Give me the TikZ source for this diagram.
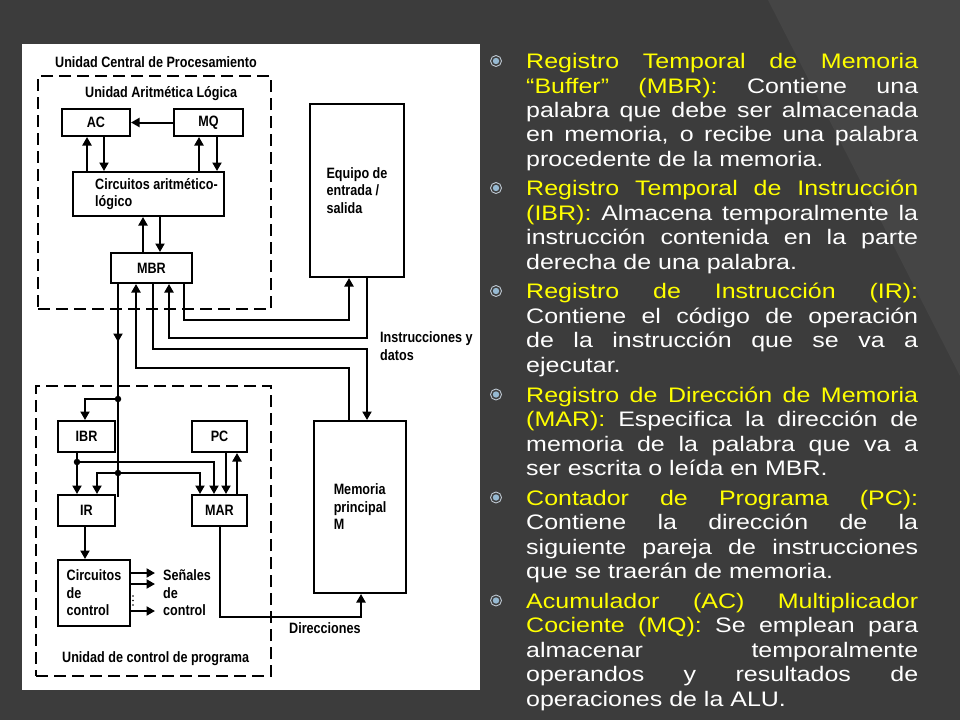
\documentclass[tikz,border=0pt]{standalone}
\usepackage{fontspec}
\setmainfont{Liberation Sans}
\newfontfamily\dfont[FakeStretch=0.84]{Liberation Sans}
\newfontfamily\rfont[FakeStretch=1.19]{Liberation Sans}
\usetikzlibrary{arrows.meta}
\definecolor{bg}{RGB}{60,60,60}
\definecolor{bgl}{RGB}{69,69,69}
\definecolor{ylw}{RGB}{255,255,0}
\definecolor{bulc}{RGB}{150,185,210}
\definecolor{ringc}{RGB}{190,200,210}
\newcommand\Y[1]{\textcolor{ylw}{#1}}
\newcommand\jline[3]{\node[txt] (#1) at (526,#2) {\makebox[392pt][s]{#3}};}
\newcommand\lastline[3]{\node[txt] (#1) at (526,#2) {#3};}
\newcommand\bulpt[2]{\node[bul] (#1) at (496,#2) {};}
\begin{document}
\begin{tikzpicture}[x=1pt,y=-1pt,
  box/.style={draw, line width=2pt, fill=white, inner sep=0pt, align=left,
    font=\dfont\bfseries\fontsize{15}{17.5}\selectfont},
  dbox/.style={draw, line width=2.4pt, dash pattern=on 12pt off 6pt, inner sep=0pt},
  lbl/.style={font=\dfont\bfseries\fontsize{15}{17.5}\selectfont, inner sep=0pt, align=left, anchor=west},
  arr/.style={line width=2pt, -{Triangle[length=8.5pt,width=9pt]}},
  ln/.style={line width=2pt},
  jdot/.style={circle, fill=black, inner sep=0pt, minimum size=6.5pt},
  txt/.style={font=\rfont\fontsize{21}{24.5}\selectfont, text=white, inner sep=0pt, anchor=base west},
  bul/.style={circle, draw=ringc, line width=0.9pt, minimum size=11pt, inner sep=0pt,
    path picture={\fill[bulc] (path picture bounding box.center) circle (3.2pt);}}
]
\useasboundingbox (0,0) rectangle (960,720);
\fill[bg] (0,0) rectangle (960,720);
\fill[bgl] (768,0) -- (960,0) -- (960,376) -- cycle;
\fill[white] (22,44) rectangle (480,690);

% dashed units
\node[dbox, minimum width=233, minimum height=233] (cpu) at (154.5,192.5) {};
\node[dbox, minimum width=235, minimum height=290] (ucp) at (153.5,531) {};

% labels
\node[lbl] (cputitle) at (55,62) {Unidad Central de Procesamiento};
\node[lbl] (alutitle) at (85,93.5) {Unidad Aritmética Lógica};
\node[lbl] (iolbl) at (380,346) {Instrucciones y\\datos};
\node[lbl] (senal) at (163,593) {Señales\\de\\control};
\node[lbl] (dir) at (289,628) {Direcciones};
\node[lbl] (ucptitle) at (62,659) {Unidad de control de programa};

% boxes
\node[box, minimum width=68, minimum height=27] (ac) at (96,122.5) {AC};
\node[box, minimum width=69, minimum height=27] (mq) at (208.5,122.5) {MQ};
\node[box, minimum width=151, minimum height=44] (alu) at (148.5,194) {};
\node[lbl] (alutxt) at (95,194) {Circuitos aritmético-\\lógico};
\node[box, minimum width=81, minimum height=30] (mbr) at (151.5,268) {MBR};
\node[box, minimum width=94, minimum height=173] (io) at (357,190.5) {Equipo de\\entrada /\\salida};
\node[box, minimum width=92, minimum height=172] (mem) at (360,507) {Memoria\\principal\\M};
\node[box, minimum width=57, minimum height=31] (ibr) at (86.5,436.5) {IBR};
\node[box, minimum width=55, minimum height=31] (pc) at (219.5,436.5) {PC};
\node[box, minimum width=57, minimum height=31] (ir) at (86.5,510.5) {IR};
\node[box, minimum width=55, minimum height=31] (mar) at (219.5,510.5) {MAR};
\node[box, minimum width=72, minimum height=66] (ctrl) at (94,593) {Circuitos\\de\\control};

% junctions
\node[jdot] (jA) at (118,399) {};
\node[jdot] (jB) at (118,473) {};
\node[jdot] (jC) at (77,462) {};
\coordinate (midArr) at (118,342);
\coordinate (midStart) at (118,336);
\coordinate (irEnd) at (118,497);
\coordinate (s1) at (155,573);
\coordinate (s2) at (155,584);
\coordinate (s3) at (155,611);

% ALU connectors
\draw[arr] (mq.west) -- (ac.east);
\draw[arr] (87,0 |- alu.north) -- (87,0 |- ac.south);
\draw[arr] (104,0 |- ac.south) -- (104,0 |- alu.north);
\draw[arr] (199,0 |- alu.north) -- (199,0 |- mq.south);
\draw[arr] (217,0 |- mq.south) -- (217,0 |- alu.north);
\draw[arr] (143,0 |- mbr.north) -- (143,0 |- alu.south);
\draw[arr] (160,0 |- alu.south) -- (160,0 |- mbr.north);

% MBR - I/O - memory
\draw[arr] (184,0 |- mbr.south) |- (349,320) -- (349,0 |- io.south);
\draw[arr] (367,0 |- io.south) |- (169,338) -- (169,0 |- mbr.south);
\draw[arr] (153,0 |- mbr.south) |- (367,349) -- (367,0 |- mem.north);
\draw[arr] (349,0 |- mem.north) |- (136,368) -- (136,0 |- mbr.south);

% MBR to control unit
\draw[arr] (118,0 |- mbr.south) -- (midArr);
\draw[ln] (midStart) -- (jA.center) -- (jB.center) -- (irEnd);
\draw[arr] (jA) -| (85,0 |- ibr.north);
\draw[arr] (77,0 |- ibr.south) -- (77,0 |- ir.north);
\draw[arr] (jC) -| (214,0 |- mar.north);
\draw[arr] (jB) -| (97,0 |- ir.north);
\draw[arr] (jB) -| (200,0 |- mar.north);
\draw[arr] (226,0 |- pc.south) -- (226,0 |- mar.north);
\draw[arr] (237,0 |- mar.north) -- (237,0 |- pc.south);
\draw[arr] (85,0 |- ir.south) -- (85,0 |- ctrl.north);
\draw[arr] (220,0 |- mar.south) |- (361,617) -- (361,0 |- mem.south);

% control signals
\draw[arr] (ctrl.east |- s1) -- (s1);
\draw[arr] (ctrl.east |- s2) -- (s2);
\draw[arr] (ctrl.east |- s3) -- (s3);
\fill (133,596) circle (0.9pt) (133,600.5) circle (0.9pt) (133,605) circle (0.9pt);

% right text
\bulpt{u1}{61}
\jline{t11}{68.5}{\Y{Registro Temporal de Memoria}}
\jline{t12}{93}{\Y{“Buffer” (MBR):} Contiene una}
\jline{t13}{117}{palabra que debe ser almacenada}
\jline{t14}{141.5}{en memoria, o recibe una palabra}
\lastline{t15}{166}{procedente de la memoria.}

\bulpt{u2}{188}
\jline{t21}{195.5}{\Y{Registro Temporal de Instrucción}}
\jline{t22}{220}{\Y{(IBR):} Almacena temporalmente la}
\jline{t23}{244.5}{instrucción contenida en la parte}
\lastline{t24}{269}{derecha de una palabra.}

\bulpt{u3}{291}
\jline{t31}{298.5}{\Y{Registro de Instrucción (IR):}}
\jline{t32}{323}{Contiene el código de operación}
\jline{t33}{347.5}{de la instrucción que se va a}
\lastline{t34}{372}{ejecutar.}

\bulpt{u4}{394.5}
\jline{t41}{402}{\Y{Registro de Dirección de Memoria}}
\jline{t42}{426.5}{\Y{(MAR):} Especifica la dirección de}
\jline{t43}{451}{memoria de la palabra que va a}
\lastline{t44}{475.5}{ser escrita o leída en MBR.}

\bulpt{u5}{497.5}
\jline{t51}{505}{\Y{Contador de Programa (PC):}}
\jline{t52}{529.5}{Contiene la dirección de la}
\jline{t53}{554}{siguiente pareja de instrucciones}
\lastline{t54}{578.5}{que se traerán de memoria.}

\bulpt{u6}{600.5}
\jline{t61}{608}{\Y{Acumulador (AC) Multiplicador}}
\jline{t62}{632.5}{\Y{Cociente (MQ):} Se emplean para}
\jline{t63}{657}{almacenar temporalmente}
\jline{t64}{681.5}{operandos y resultados de}
\lastline{t65}{706}{operaciones de la ALU.}
\end{tikzpicture}
\end{document}
